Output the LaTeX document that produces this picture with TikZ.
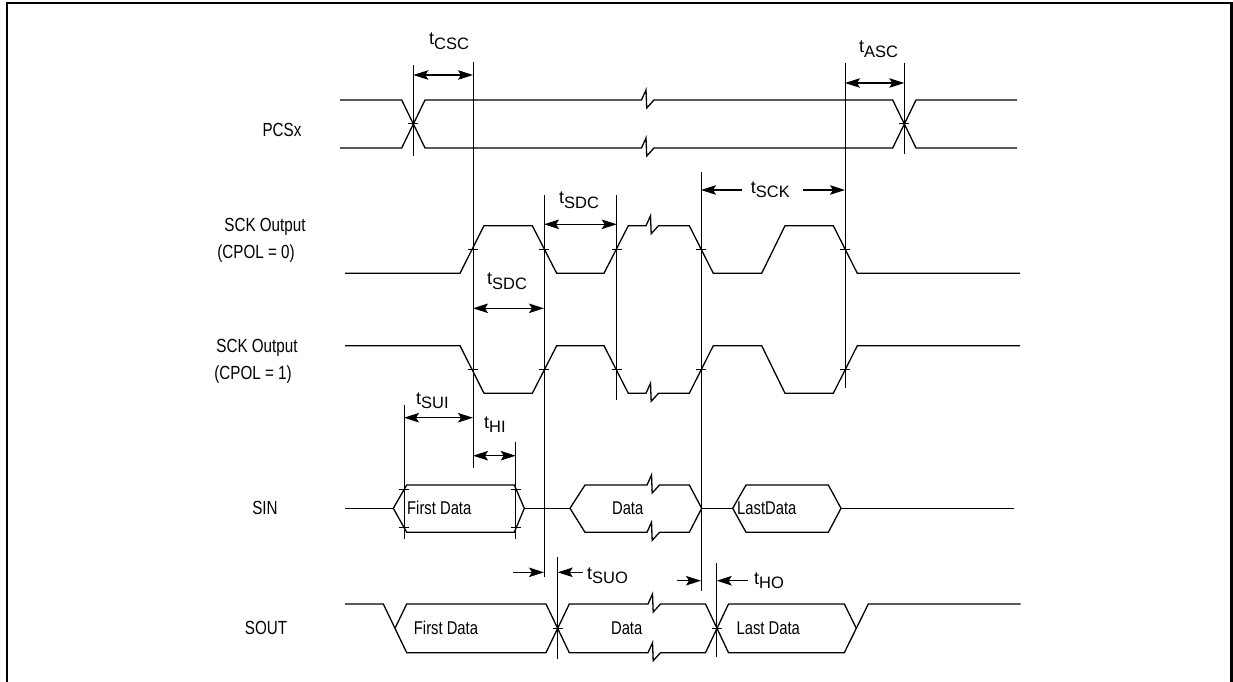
\documentclass[tikz,border=0pt]{standalone}
\usepackage{fontspec}
\setmainfont{Liberation Sans}
\newfontfamily\condfont{Liberation Sans}[FakeStretch=0.8]
\usetikzlibrary{arrows.meta}
\begin{document}
\begin{tikzpicture}[x=1pt,y=-1pt,
  sig/.style={line width=1.3pt},
  vl/.style={line width=1pt},
  tk/.style={line width=1pt},
  tip/.tip={Stealth[length=15pt,width=9.5pt,inset=3pt]},
  dim/.style={line width=1.1pt,tip-tip},
  dimr/.style={line width=1.1pt,-tip},
  lbl/.style={font=\condfont\fontsize{19}{22}\selectfont,inner sep=0pt},
  dat/.style={font=\condfont\fontsize{18.5}{22}\selectfont,inner sep=0pt},
  tl/.style={font=\fontsize{18}{21}\selectfont,inner sep=0pt,anchor=base west},
  zig/.style={insert path={-- ++(4.5,-10) -- ++(0.7,18) -- ++(7.3,-8)}}
]
\useasboundingbox (0,0) rectangle (1233,682);
% frame
\draw[line width=2.5pt] (7,682) -- (7,3) -- (1231.5,3) -- (1231.5,682);

% left labels
\node[lbl] (lpcs) at (282,130) {PCSx};
\node[lbl] (lsck0a) at (265,227) {SCK Output};
\node[lbl] (lsck0b) at (256,254) {(CPOL = 0)};
\node[lbl] (lsck1a) at (257,348) {SCK Output};
\node[lbl] (lsck1b) at (253,375) {(CPOL = 1)};
\node[lbl] (lsin) at (265,508) {SIN};
\node[lbl] (lsout) at (266,628) {SOUT};

% PCSx
\draw[sig] (340,100) -- (401.7,100) -- (425,148) -- (641.5,148) [zig] -- (892.7,148) -- (916,100) -- (1017,100);
\draw[sig] (340,148) -- (401.7,148) -- (425,100) -- (641.5,100) [zig] -- (892.7,100) -- (916,148) -- (1017,148);

% SCK CPOL=0
\draw[sig] (345,273.3) -- (460,273.3) -- (484,225.7) -- (532.3,225.7) -- (556.7,273.3) -- (604,273.3) -- (628.3,225.7) -- (646,225.7) [zig] -- (689.3,225.7) -- (713.3,273.3) -- (761.7,273.3) -- (785,225.7) -- (833.3,225.7) -- (857.3,273.3) -- (1020,273.3);
% SCK CPOL=1
\draw[sig] (345,345.7) -- (460,345.7) -- (484,393.3) -- (532.3,393.3) -- (556.7,345.7) -- (604,345.7) -- (628.3,393.3) -- (646,393.3) [zig] -- (689.3,393.3) -- (713.3,345.7) -- (761.7,345.7) -- (785,393.3) -- (833.3,393.3) -- (857.3,345.7) -- (1020,345.7);

% SIN
\draw[sig] (345,508.3) -- (393.3,508.3);
\draw[sig] (393.3,508.3) -- (406.7,485) -- (514.3,485) -- (524.3,508.3) -- (514.3,532.3) -- (406.7,532.3) -- cycle;
\draw[sig] (524.3,508.3) -- (570,508.3);
\draw[sig] (570,508.3) -- (585,485) -- (647,485) [zig] -- (689.3,485) -- (701.7,508.3);
\draw[sig] (570,508.3) -- (585,532.3) -- (647,532.3) [zig] -- (689.3,532.3) -- (701.7,508.3);
\draw[sig] (701.7,508.3) -- (732.7,508.3);
\draw[sig] (732.7,508.3) -- (746,485) -- (828.3,485) -- (841,508.3) -- (828.3,532.3) -- (746,532.3) -- cycle;
\draw[sig] (841,508.3) -- (1014.3,508.3);
\node[dat,anchor=west] (sin1) at (407,508.3) {First Data};
\node[dat] (sin2) at (627.7,508.3) {Data};
\node[dat,anchor=west] (sin3) at (737,508.3) {LastData};

% SOUT
\draw[sig] (345,604) -- (383.3,604) -- (406.7,652.7) -- (546,652.7) -- (569.3,604) -- (648,604) [zig] -- (705.5,604) -- (728.5,652.7) -- (844.3,652.7) -- (868.3,604) -- (1020.7,604);
\draw[sig] (395,628.3) -- (406.7,604) -- (546,604) -- (569.3,652.7) -- (648,652.7) [zig] -- (705.5,652.7) -- (728.5,604) -- (844.3,604) -- (856.3,628.3);
\node[dat] (so1) at (446,628.3) {First Data};
\node[dat] (so2) at (626.7,628.3) {Data};
\node[dat] (so3) at (768.3,628.3) {Last Data};

% vertical reference lines
\draw[vl] (413.3,65) -- (413.3,156);
\draw[vl] (473,62) -- (473,468);
\draw[vl] (904.3,63) -- (904.3,154);
\draw[vl] (845,63) -- (845,388);
\draw[vl] (544,195) -- (544,577);
\draw[vl] (616.7,195) -- (616.7,400);
\draw[vl] (701,172) -- (701,591);
\draw[vl] (404,405) -- (404,539);
\draw[vl] (515.7,442) -- (515.7,539);
\draw[vl] (557.7,557) -- (557.7,659);
\draw[vl] (716.7,563) -- (716.7,657);

% ticks
\foreach \x/\y in {413.3/124, 904.3/124, 473/249.5, 544/249.5, 616.7/249.5, 701/249.5, 845/249.5,
  473/369.5, 544/369.5, 616.7/369.5, 701/369.5, 845/369.5,
  404/489, 404/527, 515.7/489, 515.7/527, 557.7/628.3, 716.7/628.3}
  \draw[tk] (\x-5,\y) -- (\x+5,\y);

% dimension arrows
\coordinate (csc1) at (413.3,75); \coordinate (csc2) at (473,75);
\draw[dim] (csc1) -- (csc2);
\coordinate (asc1) at (845,83); \coordinate (asc2) at (904.3,83);
\draw[dim] (asc1) -- (asc2);
\coordinate (sdc1) at (544,224.3); \coordinate (sdc2) at (616.7,224.3);
\draw[dim] (sdc1) -- (sdc2);
\coordinate (sdc3) at (473,308.3); \coordinate (sdc4) at (544,308.3);
\draw[dim] (sdc3) -- (sdc4);
\coordinate (sck1) at (741.7,190); \coordinate (sck2) at (701,190);
\coordinate (sck3) at (803,190); \coordinate (sck4) at (845,190);
\draw[dimr] (sck1) -- (sck2);
\draw[dimr] (sck3) -- (sck4);
\coordinate (sui1) at (404,417.7); \coordinate (sui2) at (473,417.7);
\draw[dim] (sui1) -- (sui2);
\coordinate (hi1) at (473,455.7); \coordinate (hi2) at (515.7,455.7);
\draw[dim] (hi1) -- (hi2);
\coordinate (suo1) at (513.3,572.3); \coordinate (suo2) at (544,572.3);
\coordinate (suo3) at (583,572.3); \coordinate (suo4) at (557.7,572.3);
\draw[dimr] (suo1) -- (suo2);
\draw[dimr] (suo3) -- (suo4);
\coordinate (ho1) at (676.7,580.7); \coordinate (ho2) at (701,580.7);
\coordinate (ho3) at (748,580.7); \coordinate (ho4) at (716.7,580.7);
\draw[dimr] (ho1) -- (ho2);
\draw[dimr] (ho3) -- (ho4);

% timing labels
\newcommand\tsub[1]{t\raisebox{-4.5pt}{\fontsize{16.5}{19}\selectfont #1}}
\node[tl] (tcsc) at (429,45) {\tsub{CSC}};
\node[tl] (tasc) at (859,53) {\tsub{ASC}};
\node[tl] (tsdc1) at (559,203.5) {\tsub{SDC}};
\node[tl] (tsdc2) at (487,284.5) {\tsub{SDC}};
\node[tl] (tsck) at (750.7,193) {\tsub{SCK}};
\node[tl] (tsui) at (416,404) {\tsub{SUI}};
\node[tl] (thi) at (484,428) {\tsub{HI}};
\node[tl] (tsuo) at (587,579) {\tsub{SUO}};
\node[tl] (tho) at (754,584) {\tsub{HO}};
\end{tikzpicture}
\end{document}
